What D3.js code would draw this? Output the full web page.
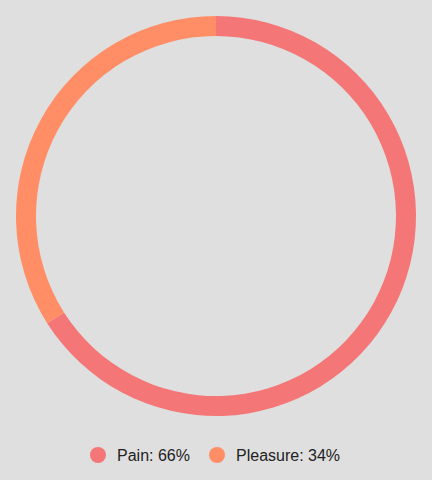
<!DOCTYPE html>
<html><head><meta charset="utf-8">
<script src="https://cdn.jsdelivr.net/npm/d3@7"></script>
<style>html,body{margin:0;padding:0;background:#dfdfdf;}svg{display:block;}</style>
</head><body>
<svg id="chart" width="432" height="480"></svg>
<script>
const categories = ["Pain", "Pleasure"];
const values = [66, 34];
const colors = ["#f47676", "#ff8d66"];

const svg = d3.select("#chart");
const cx = 216, cy = 216, outerR = 200, innerR = 180;
const data = categories.map((c, i) => ({name: c, value: values[i], color: colors[i]}));
const pie = d3.pie().value(d => d.value).sort(null);
const arc = d3.arc().innerRadius(innerR).outerRadius(outerR);
const g = svg.append("g").attr("transform", `translate(${cx},${cy})`);
g.selectAll("path").data(pie(data)).join("path")
  .attr("d", arc).attr("fill", d => d.data.color);

const legend = svg.append("g").attr("font-family", "Liberation Sans, Arial, sans-serif").attr("font-size", 16).attr("fill", "#222");
const legendX = [98, 217];
data.forEach((d, i) => {
  const lg = legend.append("g").attr("transform", `translate(${legendX[i]},455)`);
  lg.append("circle").attr("r", 8).attr("fill", d.color);
  lg.append("text").attr("x", 19).attr("y", 6).text(`${d.name}: ${d.value}%`);
});
</script>
</body></html>
